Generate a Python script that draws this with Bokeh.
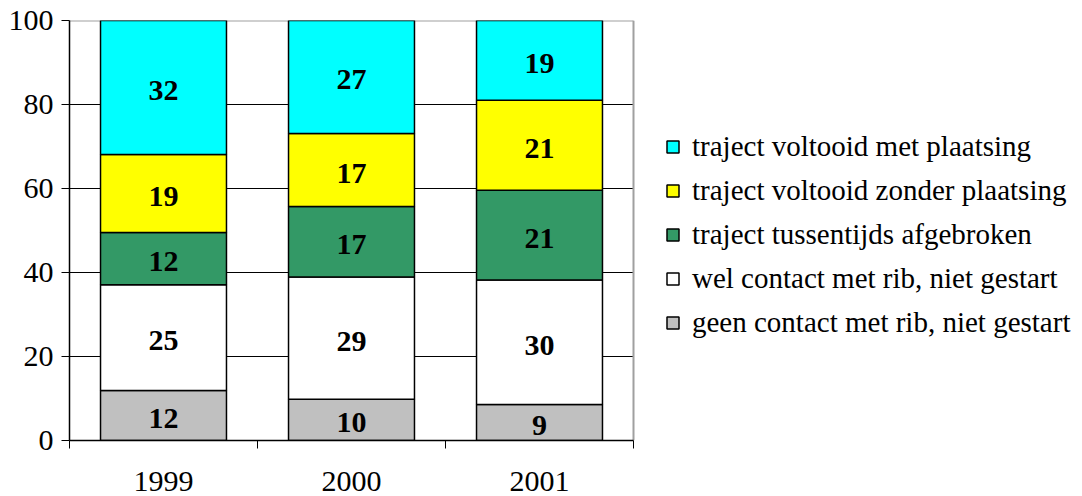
from bokeh.plotting import figure
from bokeh.models import ColumnDataSource, Range1d, FixedTicker, Legend, LegendItem
from bokeh.core.properties import value
from bokeh.embed import file_html
from bokeh.resources import INLINE

years = ["1999", "2000", "2001"]
geen_contact = [11.9, 9.8, 8.6]
wel_contact = [25.2, 29.1, 29.6]
afgebroken = [12.4, 16.8, 21.4]
zonder_plaatsing = [18.6, 17.4, 21.4]
met_plaatsing = [31.9, 26.9, 19.0]
y_ticks = [0, 20, 40, 60, 80, 100]

series_keys = ["geen", "wel", "afgebroken", "zonder", "met"]
series_names = [
    "geen contact met rib, niet gestart",
    "wel contact met rib, niet gestart",
    "traject tussentijds afgebroken",
    "traject voltooid zonder plaatsing",
    "traject voltooid met plaatsing",
]
series_values = [geen_contact, wel_contact, afgebroken, zonder_plaatsing, met_plaatsing]
colors = ["#C0C0C0", "#FFFFFF", "#339966", "#FFFF00", "#00FFFF"]

FONT = "Liberation Serif"
FS = "30px"

W, H = 1082, 496
LEFT, TOP, BOTTOM = 69, 20, 56
CAT_PX = 188  # pixel width of one category slot
n = len(years)

xs = [i + 0.5 for i in range(n)]
data = {"x": xs}
for k, v in zip(series_keys, series_values):
    data[k] = v
src = ColumnDataSource(data)

p = figure(width=W, height=H, output_backend="svg", toolbar_location=None,
           x_range=Range1d(0, (W - LEFT) / CAT_PX), y_range=Range1d(0, 100),
           min_border_left=LEFT, min_border_right=0, min_border_top=TOP, min_border_bottom=BOTTOM)
p.outline_line_color = None
p.xgrid.visible = False
p.ygrid.visible = False

# horizontal gridlines limited to the plot area
gy = y_ticks[1:-1]
p.segment(x0=[0] * len(gy), x1=[n] * len(gy), y0=gy, y1=gy, line_color="black", line_width=1)
# gray top and right border of the plot area
p.segment(x0=[0, n], x1=[n, n], y0=[100, 0], y1=[100, 100], line_color="#A0A0A0", line_width=2)

renderers = p.vbar_stack(series_keys, x="x", width=0.67, color=colors,
                         line_color="black", line_width=1.5, source=src)

# segment labels
lx, ly, lt = [], [], []
for j, x in enumerate(xs):
    base = 0.0
    for vals in series_values:
        v = vals[j]
        lx.append(x)
        ly.append(base + v / 2)
        lt.append(f"{v:.0f}")
        base += v
p.text(x=lx, y=ly, text=lt, text_font=value(FONT), text_font_style="bold",
       text_font_size=FS, text_align="center", text_baseline="middle", text_color="black",
       y_offset=3)

# axes
p.yaxis.ticker = FixedTicker(ticks=y_ticks)
p.yaxis.major_tick_out = 8
p.yaxis.major_tick_in = 0
p.yaxis.minor_tick_out = 0
p.yaxis.minor_tick_in = 0
p.yaxis.major_label_standoff = 8
p.yaxis.axis_line_color = "black"
p.yaxis.major_tick_line_color = "black"

p.xaxis.bounds = (0, n)
p.xaxis.ticker = FixedTicker(ticks=xs, minor_ticks=list(range(n + 1)))
p.xaxis.major_label_overrides = {x: y for x, y in zip(xs, years)}
p.xaxis.major_tick_out = 0
p.xaxis.major_tick_in = 0
p.xaxis.minor_tick_out = 8
p.xaxis.minor_tick_in = 0
p.xaxis.minor_tick_line_color = "black"
p.xaxis.major_label_standoff = 23
p.xaxis.axis_line_color = "black"

for ax in (p.xaxis[0], p.yaxis[0]):
    ax.major_label_text_font = FONT
    ax.major_label_text_font_size = FS
    ax.major_label_text_color = "black"
    ax.axis_line_width = 1.5

items = [LegendItem(label=nm, renderers=[r]) for nm, r in zip(series_names, renderers)]
items.reverse()
legend = Legend(items=items, location=(596, 101), orientation="vertical",
                label_text_font=FONT, label_text_font_size="29px", label_text_color="black",
                glyph_width=15, glyph_height=15, label_standoff=12,
                spacing=11, padding=0, margin=0,
                border_line_color=None, background_fill_alpha=0)
p.add_layout(legend, "center")

open("out.html", "w").write(file_html(p, INLINE))
